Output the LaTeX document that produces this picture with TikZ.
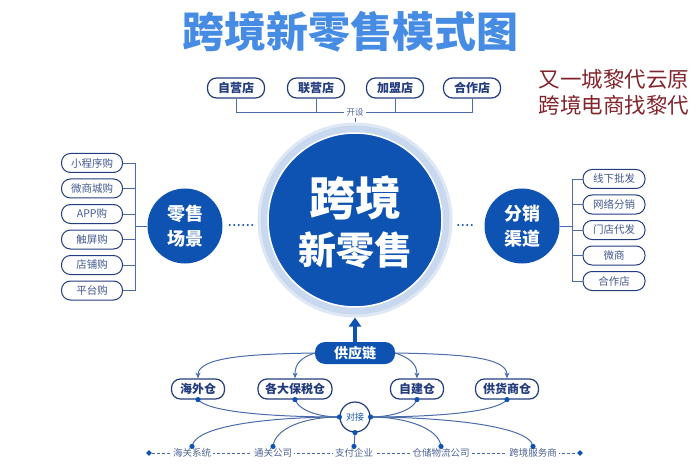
\documentclass[tikz,border=0pt]{standalone}
\usepackage{fontspec}
\newfontfamily\cjk{Noto Sans CJK SC}
\usetikzlibrary{arrows.meta,positioning,calc,shapes.geometric}
\definecolor{darkblue}{RGB}{14,82,178}
\definecolor{navyline}{RGB}{34,60,126}
\definecolor{halo}{RGB}{200,216,238}
\definecolor{titleblue}{RGB}{70,140,228}
\definecolor{markred}{RGB}{130,36,44}
\definecolor{linkblue}{RGB}{74,108,170}

\begin{document}
\begin{tikzpicture}[x=1pt,y=-1pt,
    font=\cjk,
    pill/.style={rectangle,draw=navyline,line width=1.2pt,fill=white,rounded corners=9pt,
      minimum width=57pt,minimum height=20pt,inner sep=1pt,text=navyline,
      font=\cjk\bfseries\fontsize{12}{12}\selectfont},
    slim/.style={rectangle,draw=navyline,line width=1pt,fill=white,rounded corners=9pt,
      minimum width=61pt,minimum height=19pt,inner sep=1pt,text=navyline!85,
      font=\cjk\fontsize{10.5}{10.5}\selectfont},
    hub/.style={circle,fill=darkblue,minimum size=75pt,inner sep=0pt,text=white,align=center,
      font=\cjk\bfseries\fontsize{18}{25}\selectfont},
    tag/.style={fill=white,inner sep=2pt,text=navyline!80,font=\cjk\fontsize{9.5}{9.5}\selectfont},
    bus/.style={linkblue,line width=0.9pt},
    link/.style={linkblue,line width=1pt},
    a/.style={link,-{Stealth[length=6pt,width=5pt]}},
    dots/.style={darkblue,line width=2.2pt,line cap=round,dash pattern=on 0pt off 4.5pt}]
    \useasboundingbox (0,0) rectangle (700,470);

    % title and mark
    \node[text=titleblue,font=\cjk\bfseries\fontsize{42}{42}\selectfont] (title) at (350,32) {跨境新零售模式图};
    \node[anchor=west,text=markred,font=\cjk\fontsize{21.5}{21.5}\selectfont] (mark1) at (535,79) {又一城黎代云原};
    \node[anchor=west,text=markred,font=\cjk\fontsize{21.5}{21.5}\selectfont] (mark2) at (535,105) {跨境电商找黎代};

    % centre
    \node[circle,fill=halo,draw=halo!60,line width=3pt,minimum size=192pt] (core) at (355,220) {};
    \node[circle,fill=darkblue,draw=white,line width=1.5pt,minimum size=174pt] (inner) at (core) {};
    \node[text=white,font=\cjk\bfseries\fontsize{46}{46}\selectfont] (coretop) at (355,198) {跨境};
    \node[text=white,font=\cjk\bfseries\fontsize{38}{38}\selectfont] (corebot) at (355,250) {新零售};

    % top: shops
    \node[pill] (zy) at (236,88) {自营店};
    \node[pill] (ly) at (316,88) {联营店};
    \node[pill] (jm) at (395,88) {加盟店};
    \node[pill] (hz) at (472,88) {合作店};
    \node[tag,font=\cjk\fontsize{8.5}{8.5}\selectfont] (kaishe) at (355,112) {开设};
    \draw[bus](zy)|-(kaishe.west); \draw[bus](ly)|-(kaishe.west);
    \draw[bus](jm)|-(kaishe.east); \draw[bus](hz)|-(kaishe.east);
    \draw[bus](kaishe)--(core);

    % left: retail scenes
    \node[hub] (scene) at (185,226) {零售\\场景};
    \node[slim] (xcx) at (92,163) {小程序购};
    \node[slim,below=5.5pt of xcx] (wsc) {微商城购};
    \node[slim,below=5.5pt of wsc] (app) {APP购};
    \node[slim,below=5.5pt of app] (cp) {触屏购};
    \node[slim,below=5.5pt of cp] (dp) {店铺购};
    \node[slim,below=5.5pt of dp] (pt) {平台购};
    \coordinate (lbus) at (135,226);
    \foreach \n in {xcx,wsc,app,cp,dp,pt} \draw[bus](\n)-|(lbus);
    \draw[bus](scene)--(lbus);
    \draw[dots]($(scene.east)+(7,-1)$)--($(scene.east)+(32,-1)$);

    % right: channels
    \node[hub] (channel) at (522,226) {分销\\渠道};
    \node[slim,minimum width=62pt] (xx) at (614,179) {线下批发};
    \node[slim,minimum width=62pt,below=5.5pt of xx] (wl) {网络分销};
    \node[slim,minimum width=62pt,below=5.5pt of wl] (md) {门店代发};
    \node[slim,minimum width=62pt,below=5.5pt of md] (ws) {微商};
    \node[slim,minimum width=62pt,below=5.5pt of ws] (hzd) {合作店};
    \coordinate (rbus) at (572,226);
    \foreach \n in {xx,wl,md,ws,hzd} \draw[bus](\n)-|(rbus);
    \draw[bus](channel)--(rbus);
    \draw[dots]($(channel.west)+(-26,-1)$)--($(channel.west)+(-10,-1)$);

    % bottom: supply chain
    \node[rectangle,fill=darkblue,rounded corners=10pt,minimum width=80pt,minimum height=22pt,
      text=white,font=\cjk\bfseries\fontsize{14}{14}\selectfont] (supply) at (355,353) {供应链};
    \draw[darkblue,line width=3.5pt,-{Triangle[length=9pt,width=12pt]}](supply)--(core);
    \node[pill,minimum width=53pt] (hw) at (198,389) {海外仓};
    \node[pill,minimum width=74pt] (bs) at (295,389) {各大保税仓};
    \node[pill,minimum width=53pt] (zj) at (417,389) {自建仓};
    \node[pill,minimum width=63pt] (gh) at (507,389) {供货商仓};
    \draw[a](supply.west) .. controls (250,354) and (198,357) .. (hw.north);
    \draw[a](supply.west) .. controls (300,358) and (295,364) .. (bs.north);
    \draw[a](supply.east) .. controls (410,358) and (417,364) .. (zj.north);
    \draw[a](supply.east) .. controls (460,354) and (507,357) .. (gh.north);

    % docking
    \node[circle,draw=navyline,line width=1.2pt,fill=white,minimum size=30pt,inner sep=0pt,
      text=darkblue,font=\cjk\fontsize{9}{9}\selectfont] (dj) at (355,417) {对接};
    \node[diamond,fill=darkblue,minimum size=6pt,inner sep=0pt] (dl) at (149,453) {};
    \node[diamond,fill=darkblue,minimum size=6pt,inner sep=0pt] (dr) at (580,453) {};
    \draw[linkblue,line width=0.8pt,dash pattern=on 2.5pt off 2.5pt](dl)--(dr);
    \node[tag] (hg) at (192,453) {海关系统};
    \node[tag] (tg) at (273,453) {通关公司};
    \node[tag] (zf) at (354,453) {支付企业};
    \node[tag] (cc) at (441,453) {仓储物流公司};
    \node[tag] (kj) at (533,453) {跨境服务商};
    \draw[link](hw.south) .. controls (210,414) and (290,417) .. (dj.west);
    \draw[link](bs.south) .. controls (300,412) and (322,417) .. (dj.west);
    \draw[link](zj.south) .. controls (412,412) and (388,417) .. (dj.east);
    \draw[link](gh.south) .. controls (495,414) and (420,417) .. (dj.east);
    \draw[link](dj.west) .. controls (280,417) and (195,424) .. (hg.north);
    \draw[link](dj.west) .. controls (305,417) and (275,428) .. (tg.north);
    \draw[link](dj.south)--(zf.north);
    \draw[link](dj.east) .. controls (405,417) and (439,428) .. (cc.north);
    \draw[link](dj.east) .. controls (430,417) and (530,424) .. (kj.north);
    \foreach \p in {hw.south,bs.south,zj.south,gh.south,dj.west,dj.east,dj.south,
      hg.north,tg.north,zf.north,cc.north,kj.north} \fill[darkblue](\p) circle (2.6pt);
  \end{tikzpicture}
\end{document}
